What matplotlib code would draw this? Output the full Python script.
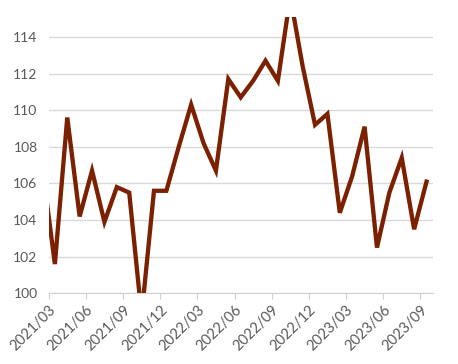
import numpy as np
import matplotlib.pyplot as plt

# monthly index, 2021/02 .. 2023/09
months = ['2021/02', '2021/03', '2021/04', '2021/05', '2021/06', '2021/07', '2021/08',
          '2021/09', '2021/10', '2021/11', '2021/12', '2022/01', '2022/02', '2022/03',
          '2022/04', '2022/05', '2022/06', '2022/07', '2022/08', '2022/09', '2022/10',
          '2022/11', '2022/12', '2023/01', '2023/02', '2023/03', '2023/04', '2023/05',
          '2023/06', '2023/07', '2023/08', '2023/09']
values = [106.8, 101.6, 109.6, 104.2, 106.7, 103.9, 105.8,
          105.5, 98.8, 105.6, 105.6, 108.0, 110.3, 108.2,
          106.7, 111.7, 110.7, 111.6, 112.7, 111.6, 116.2,
          112.4, 109.2, 109.8, 104.4, 106.4, 109.1, 102.5,
          105.5, 107.4, 103.5, 106.1]
tick_labels = ['2021/03', '2021/06', '2021/09', '2021/12', '2022/03', '2022/06',
               '2022/09', '2022/12', '2023/03', '2023/06', '2023/09']

plt.rcParams['font.family'] = ['Lato', 'DejaVu Sans']

fig = plt.figure(figsize=(4.58, 3.64), dpi=100)
ax = fig.add_axes([0.1063, 0.194, 0.8385, 0.76])

# points sit mid-month; month 2021/03 starts at 0
x = np.arange(len(values)) - 0.5
ax.plot(x, values, color='#7B2000', linewidth=3.1, solid_joinstyle='miter')

ax.set_xlim(0, 31)
ax.set_ylim(100, 115.1)
ax.set_yticks(np.arange(100, 115, 2))
ax.set_xticks([months.index(m) - 1 for m in tick_labels])
ax.set_xticklabels(tick_labels, rotation=45, ha='right', va='top', rotation_mode='anchor')

ax.grid(True, axis='y', color='#d9d9d9', linewidth=1.0)
ax.set_axisbelow(True)
for s in ['top', 'right', 'left']:
    ax.spines[s].set_visible(False)
ax.spines['bottom'].set_color('#d0d0d0')
ax.tick_params(axis='y', length=0, pad=8, labelsize=10, labelcolor='#595959')
ax.tick_params(axis='x', length=4, color='#d0d0d0', pad=3, labelsize=10.5, labelcolor='#595959')

plt.savefig('out.png', dpi=100)
